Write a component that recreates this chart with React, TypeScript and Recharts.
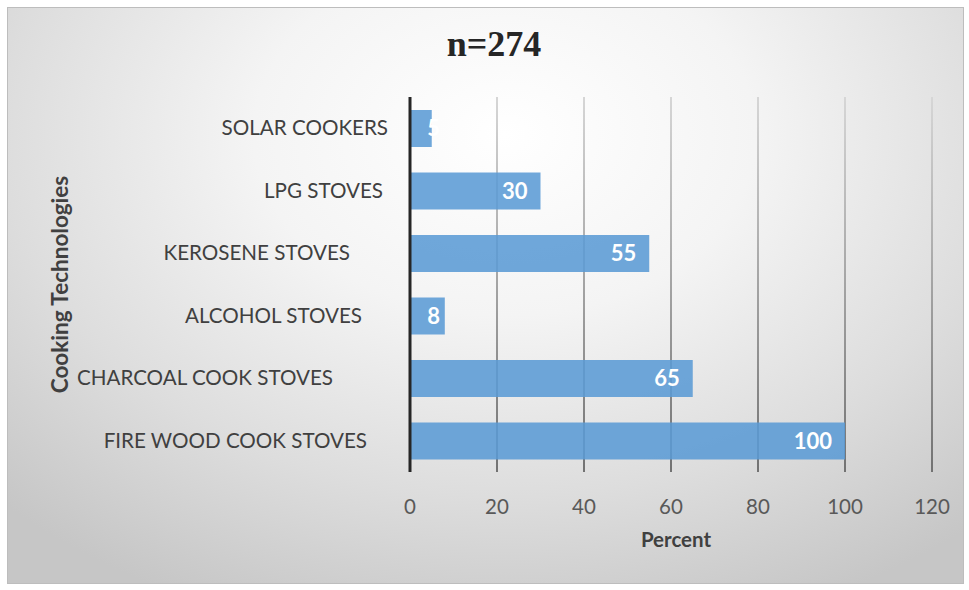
import React from 'react';
import { BarChart, Bar, XAxis, YAxis, CartesianGrid, LabelList, Label } from 'recharts';

// Share of households using each cooking technology (n = 274)
const technologies = [
  'SOLAR COOKERS',
  'LPG STOVES',
  'KEROSENE STOVES',
  'ALCOHOL STOVES',
  'CHARCOAL COOK STOVES',
  'FIRE WOOD COOK STOVES',
];
const percents = [5, 30, 55, 8, 65, 100];
const percentTicks = [0, 20, 40, 60, 80, 100, 120];

const data = technologies.map((name, i) => ({ name, value: percents[i] }));

const W = 969;
const H = 590;
const FONT = 'Lato, "Open Sans", sans-serif';

// Distance between each category label's right edge and the axis line
const labelGap: Record<string, number> = {
  'SOLAR COOKERS': 22,
  'LPG STOVES': 27,
  'KEROSENE STOVES': 60,
  'ALCOHOL STOVES': 48,
  'CHARCOAL COOK STOVES': 77,
  'FIRE WOOD COOK STOVES': 43,
};

const CategoryTick = (props: any) => {
  const { x, y, payload } = props;
  const gap = labelGap[payload.value] ?? 20;
  return (
    <text
      x={Number(x) - gap}
      y={Number(y)}
      dy="0.35em"
      textAnchor="end"
      fill="#404040"
      fontSize={20.6}
      fontFamily={FONT}
    >
      {payload.value}
    </text>
  );
};

const ValueLabel = (props: any) => {
  const x = Number(props.x);
  const y = Number(props.y);
  const width = Number(props.width);
  const height = Number(props.height);
  const end = Math.max(x + width - 13, x + 30);
  return (
    <text
      x={end}
      y={y + height / 2}
      dy="0.36em"
      textAnchor="end"
      fill="#ffffff"
      fontSize={22}
      fontWeight={700}
      fontFamily={FONT}
    >
      {props.value}
    </text>
  );
};

const AxisTitle = (props: any) => {
  const vb = props.viewBox;
  const cx = vb.x + 60;
  const cy = vb.y + vb.height / 2;
  return (
    <text
      x={cx}
      y={cy}
      transform={`rotate(-90 ${cx} ${cy})`}
      textAnchor="middle"
      dy="0.35em"
      fill="#404040"
      fontSize={22.5}
      fontWeight={700}
      fontFamily={FONT}
    >
      Cooking Technologies
    </text>
  );
};

export default function App() {
  return (
    <div style={{ position: 'absolute', left: 0, top: 0, width: W, height: H, background: '#ffffff' }}>
      <div
        style={{
          position: 'absolute',
          left: 7,
          top: 7,
          width: 955,
          height: 575,
          border: '1px solid #bdbdbd',
          background:
            'radial-gradient(ellipse 75% 90% at 52% 22%, #ffffff 0%, #f4f4f4 35%, #dddddd 70%, #c6c6c6 100%)',
        }}
      />
      <div
        style={{
          position: 'absolute',
          left: 0,
          top: 23,
          width: 988,
          textAlign: 'center',
          fontFamily: '"Liberation Serif", "Times New Roman", serif',
          fontWeight: 700,
          fontSize: 36,
          lineHeight: '42px',
          color: '#262626',
        }}
      >
        n=274
      </div>
      <div style={{ position: 'absolute', left: 0, top: 0 }}>
        <BarChart
          width={W}
          height={H}
          data={data}
          layout="vertical"
          margin={{ top: 97, right: 37, bottom: 38, left: 0 }}
        >
          <defs>
            <linearGradient id="gridFade" gradientUnits="userSpaceOnUse" x1="0" y1="97" x2="0" y2="472">
              <stop offset="0%" stopColor="#d6d6d6" />
              <stop offset="100%" stopColor="#727272" />
            </linearGradient>
          </defs>
          <CartesianGrid horizontal={false} stroke="url(#gridFade)" strokeWidth={2} />
          <XAxis
            type="number"
            domain={[0, 120]}
            ticks={percentTicks}
            interval={0}
            height={80}
            axisLine={false}
            tickLine={false}
            tickSize={0}
            tickMargin={27}
            tick={{ fill: '#595959', fontSize: 20.5, fontFamily: FONT }}
          >
            <Label
              value="Percent"
              position="insideBottom"
              offset={5}
              dx={5}
              fill="#404040"
              fontSize={20.5}
              fontWeight={700}
              fontFamily={FONT}
            />
          </XAxis>
          <YAxis
            type="category"
            dataKey="name"
            width={410}
            axisLine={{ stroke: '#262626', strokeWidth: 3 }}
            tickLine={false}
            tickSize={0}
            tickMargin={0}
            tick={<CategoryTick />}
          >
            <Label content={<AxisTitle />} />
          </YAxis>
          <Bar dataKey="value" fill="#5b9bd5" fillOpacity={0.88} barSize={37} isAnimationActive={false}>
            <LabelList dataKey="value" content={<ValueLabel />} />
          </Bar>
        </BarChart>
      </div>
    </div>
  );
}
